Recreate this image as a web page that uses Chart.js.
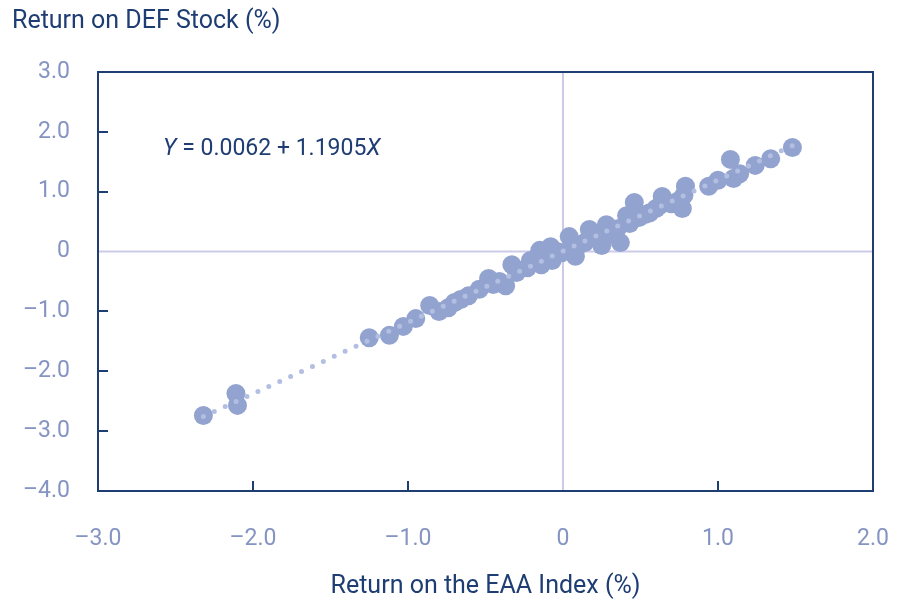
<!DOCTYPE html>
<html>
<head>
<meta charset="utf-8">
<script src="https://cdn.jsdelivr.net/npm/chart.js@4/dist/chart.umd.min.js"></script>
<style>
  html, body { margin: 0; padding: 0; background: #fff; }
  #wrap { width: 900px; height: 614px; }
</style>
</head>
<body>
<div id="wrap"><canvas id="chart"></canvas></div>
<script>
// returns (%)
const indexReturns = [-2.32, -2.11, -2.10, -1.25, -1.12, -1.03, -0.95, -0.86, -0.80, -0.74,
  -0.70, -0.66, -0.61, -0.54, -0.48, -0.45, -0.41, -0.37, -0.33, -0.30, -0.23, -0.21,
  -0.15, -0.14, -0.08, -0.07, -0.04, -0.01, 0.04, 0.06, 0.08, 0.11, 0.14, 0.17,
  0.21, 0.25, 0.28, 0.31, 0.35, 0.37, 0.41, 0.43, 0.46, 0.49, 0.53, 0.56,
  0.60, 0.63, 0.64, 0.70, 0.74, 0.77, 0.79, 0.78, 0.94, 1.00, 1.08, 1.10,
  1.14, 1.24, 1.34, 1.48];
const stockReturns = [-2.74, -2.37, -2.57, -1.44, -1.40, -1.25, -1.12, -0.90, -1.00, -0.94,
  -0.85, -0.80, -0.74, -0.63, -0.45, -0.55, -0.50, -0.57, -0.22, -0.35, -0.27, -0.15,
  0.02, -0.22, 0.08, -0.15, 0.00, -0.02, 0.25, 0.05, -0.08, 0.12, 0.15, 0.37,
  0.22, 0.10, 0.45, 0.30, 0.38, 0.15, 0.60, 0.47, 0.82, 0.57, 0.62, 0.65,
  0.72, 0.78, 0.92, 0.80, 0.84, 0.72, 1.09, 0.94, 1.09, 1.19, 1.54, 1.22,
  1.30, 1.44, 1.55, 1.74];

// fitted line Y = a + bX, drawn over the range of the data
const intercept = 0.0062;
const slope = 1.1905;
const fitRange = [-2.32, 1.50];

const xTickValues = [-3, -2, -1, 0, 1, 2];
const xTickLabels = ['–3.0', '–2.0', '–1.0', '0', '1.0', '2.0'];
const yTickValues = [-4, -3, -2, -1, 0, 1, 2, 3];
const yTickLabels = ['–4.0', '–3.0', '–2.0', '–1.0', '0', '1.0', '2.0', '3.0'];

const NAVY = '#1e3d73';
const TICK_TEXT = '#8594c2';
const DOT = '#93a3cf';
const FIT = '#b2bfe2';
const ZERO_LINE = '#cbcbe7';
const FONT = 'Roboto, "Open Sans", sans-serif';

const points = indexReturns.map((x, i) => ({ x: x, y: stockReturns[i] }));
const fitLine = fitRange.map(x => ({ x: x, y: intercept + slope * x }));

// frame, inner tick marks, title and equation
const decorPlugin = {
  id: 'decor',
  beforeDatasetsDraw(chart) {
    const { ctx, chartArea: a, scales: { x, y } } = chart;
    ctx.save();
    ctx.strokeStyle = ZERO_LINE;
    ctx.lineWidth = 2;
    const x0 = x.getPixelForValue(0), y0 = y.getPixelForValue(0);
    ctx.beginPath();
    ctx.moveTo(x0, a.top); ctx.lineTo(x0, a.bottom);
    ctx.moveTo(a.left, y0); ctx.lineTo(a.right, y0);
    ctx.stroke();
    ctx.restore();
  },
  afterDraw(chart) {
    const { ctx, chartArea: a, scales: { x, y } } = chart;
    ctx.save();
    ctx.strokeStyle = NAVY;
    ctx.lineWidth = 2;
    ctx.strokeRect(a.left, a.top, a.right - a.left, a.bottom - a.top);
    ctx.beginPath();
    xTickValues.forEach(v => {
      if (v === 0 || v === x.min || v === x.max) return;
      const px = Math.round(x.getPixelForValue(v));
      ctx.moveTo(px, a.bottom); ctx.lineTo(px, a.bottom - 10);
    });
    yTickValues.forEach(v => {
      if (v === 0 || v === y.min || v === y.max) return;
      const py = Math.round(y.getPixelForValue(v));
      ctx.moveTo(a.left, py); ctx.lineTo(a.left + 10, py);
    });
    ctx.stroke();

    // y axis title, top left
    ctx.fillStyle = NAVY;
    ctx.textBaseline = 'alphabetic';
    ctx.textAlign = 'left';
    ctx.font = '25px ' + FONT;
    ctx.fillText('Return on DEF Stock (%)', 12, 28);

    // regression equation
    let ex = x.getPixelForValue(-2.58);
    const ey = y.getPixelForValue(1.62);
    const parts = [['Y', true], [' = 0.0062 + 1.1905', false], ['X', true]];
    parts.forEach(([t, it]) => {
      ctx.font = (it ? 'italic ' : '') + '23px ' + FONT;
      ctx.fillText(t, ex, ey);
      ex += ctx.measureText(t).width;
    });
    ctx.restore();
  }
};

new Chart(document.getElementById('chart'), {
  type: 'scatter',
  data: {
    datasets: [{
      label: 'Fit',
      type: 'line',
      data: fitLine,
      borderColor: FIT,
      borderWidth: 5,
      borderDash: [0, 12],
      borderCapStyle: 'round',
      pointRadius: 0,
      fill: false,
      order: 0
    }, {
      label: 'Returns',
      data: points,
      backgroundColor: DOT,
      borderWidth: 0,
      pointRadius: 9.5,
      order: 1
    }]
  },
  options: {
    responsive: true,
    maintainAspectRatio: false,
    animation: false,
    layout: { padding: { top: 72, right: 27, left: 0, bottom: 0 } },
    plugins: { legend: { display: false }, tooltip: { enabled: false } },
    scales: {
      x: {
        type: 'linear',
        min: -3, max: 2,
        afterBuildTicks: s => { s.ticks = xTickValues.map(v => ({ value: v })); },
        afterFit: s => { s.height = 123; s.paddingLeft = 0; s.paddingRight = 0; },
        grid: { display: false, drawTicks: false },
        border: { display: false },
        ticks: {
          padding: 34,
          color: TICK_TEXT,
          font: { family: FONT, size: 23 },
          maxRotation: 0,
          callback: (v) => xTickLabels[xTickValues.indexOf(v)]
        },
        title: {
          display: true,
          text: 'Return on the EAA Index (%)',
          color: NAVY,
          font: { family: FONT, size: 25 },
          padding: { top: 0, bottom: 12 }
        }
      },
      y: {
        type: 'linear',
        min: -4, max: 3,
        afterBuildTicks: s => { s.ticks = yTickValues.map(v => ({ value: v })); },
        afterFit: s => { s.width = 98; s.paddingTop = 0; s.paddingBottom = 0; },
        grid: { display: false, drawTicks: false },
        border: { display: false },
        ticks: {
          padding: 28,
          color: TICK_TEXT,
          font: { family: FONT, size: 23 },
          callback: (v) => yTickLabels[yTickValues.indexOf(v)]
        }
      }
    }
  },
  plugins: [decorPlugin]
});
</script>
</body>
</html>
